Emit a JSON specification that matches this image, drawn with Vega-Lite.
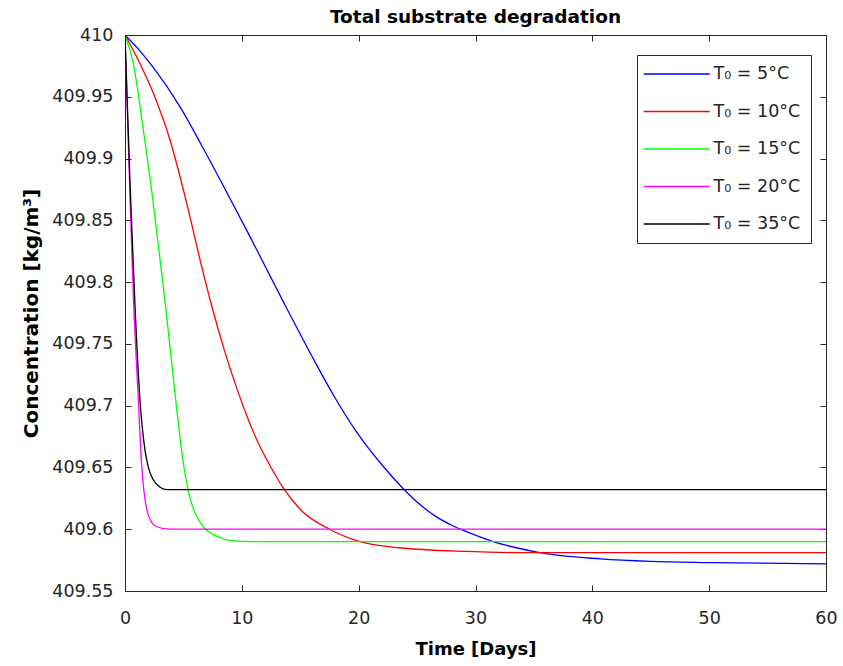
{
  "$schema": "https://vega.github.io/schema/vega-lite/v6.json",
  "width": 701,
  "height": 556,
  "autosize": {"type": "none"},
  "padding": {"left": 125, "top": 35, "right": 17, "bottom": 75},
  "background": "white",
  "title": {"text": "Total substrate degradation", "font": "DejaVu Sans", "fontSize": 18.5, "fontWeight": "bold", "color": "#000000", "offset": 0, "anchor": "middle"},
  "config": {
    "view": {"stroke": "#262626", "strokeWidth": 1},
    "font": "DejaVu Sans",
    "axis": {"grid": false, "domainColor": "#262626", "tickColor": "#262626", "labelColor": "#262626", "labelFont": "DejaVu Sans", "labelFontSize": 17.5, "titleFont": "DejaVu Sans", "titleFontSize": 18, "titleFontWeight": "bold", "titleColor": "#000000", "tickSize": -6, "labelPadding": 18, "labelFlush": false}
  },
  "data": {"values": [
    {"s": "T₀ = 5°C", "t": 0, "v": 410},
    {"s": "T₀ = 5°C", "t": 1.2, "v": 409.988},
    {"s": "T₀ = 5°C", "t": 2.4, "v": 409.974},
    {"s": "T₀ = 5°C", "t": 4.7, "v": 409.942},
    {"s": "T₀ = 5°C", "t": 6.6, "v": 409.910},
    {"s": "T₀ = 5°C", "t": 8.3, "v": 409.880},
    {"s": "T₀ = 5°C", "t": 10.8, "v": 409.835},
    {"s": "T₀ = 5°C", "t": 13.5, "v": 409.785},
    {"s": "T₀ = 5°C", "t": 16.4, "v": 409.733},
    {"s": "T₀ = 5°C", "t": 18.0, "v": 409.706},
    {"s": "T₀ = 5°C", "t": 19.8, "v": 409.679},
    {"s": "T₀ = 5°C", "t": 22.0, "v": 409.652},
    {"s": "T₀ = 5°C", "t": 23.8, "v": 409.633},
    {"s": "T₀ = 5°C", "t": 25.0, "v": 409.622},
    {"s": "T₀ = 5°C", "t": 26.5, "v": 409.611},
    {"s": "T₀ = 5°C", "t": 28.0, "v": 409.603},
    {"s": "T₀ = 5°C", "t": 29.5, "v": 409.597},
    {"s": "T₀ = 5°C", "t": 31.5, "v": 409.590},
    {"s": "T₀ = 5°C", "t": 33.5, "v": 409.585},
    {"s": "T₀ = 5°C", "t": 35.5, "v": 409.581},
    {"s": "T₀ = 5°C", "t": 40.7, "v": 409.576},
    {"s": "T₀ = 5°C", "t": 45.0, "v": 409.574},
    {"s": "T₀ = 5°C", "t": 50.0, "v": 409.573},
    {"s": "T₀ = 5°C", "t": 60.0, "v": 409.572},
    {"s": "T₀ = 10°C", "t": 0, "v": 410},
    {"s": "T₀ = 10°C", "t": 1.28, "v": 409.977},
    {"s": "T₀ = 10°C", "t": 2.42, "v": 409.953},
    {"s": "T₀ = 10°C", "t": 3.85, "v": 409.915},
    {"s": "T₀ = 10°C", "t": 5.28, "v": 409.864},
    {"s": "T₀ = 10°C", "t": 6.5, "v": 409.815},
    {"s": "T₀ = 10°C", "t": 7.5, "v": 409.778},
    {"s": "T₀ = 10°C", "t": 8.5, "v": 409.745},
    {"s": "T₀ = 10°C", "t": 9.5, "v": 409.716},
    {"s": "T₀ = 10°C", "t": 10.5, "v": 409.690},
    {"s": "T₀ = 10°C", "t": 11.5, "v": 409.668},
    {"s": "T₀ = 10°C", "t": 12.5, "v": 409.650},
    {"s": "T₀ = 10°C", "t": 13.5, "v": 409.634},
    {"s": "T₀ = 10°C", "t": 15.0, "v": 409.616},
    {"s": "T₀ = 10°C", "t": 17.5, "v": 409.600},
    {"s": "T₀ = 10°C", "t": 20.1, "v": 409.590},
    {"s": "T₀ = 10°C", "t": 23.5, "v": 409.585},
    {"s": "T₀ = 10°C", "t": 29.3, "v": 409.582},
    {"s": "T₀ = 10°C", "t": 35.0, "v": 409.581},
    {"s": "T₀ = 10°C", "t": 60.0, "v": 409.581},
    {"s": "T₀ = 15°C", "t": 0, "v": 410},
    {"s": "T₀ = 15°C", "t": 0.71, "v": 409.977},
    {"s": "T₀ = 15°C", "t": 1.57, "v": 409.923},
    {"s": "T₀ = 15°C", "t": 2.42, "v": 409.864},
    {"s": "T₀ = 15°C", "t": 3.0, "v": 409.818},
    {"s": "T₀ = 15°C", "t": 3.5, "v": 409.778},
    {"s": "T₀ = 15°C", "t": 4.14, "v": 409.722},
    {"s": "T₀ = 15°C", "t": 5.0, "v": 409.653},
    {"s": "T₀ = 15°C", "t": 5.57, "v": 409.625},
    {"s": "T₀ = 15°C", "t": 6.0, "v": 409.613},
    {"s": "T₀ = 15°C", "t": 6.7, "v": 409.602},
    {"s": "T₀ = 15°C", "t": 7.5, "v": 409.596},
    {"s": "T₀ = 15°C", "t": 8.2, "v": 409.593},
    {"s": "T₀ = 15°C", "t": 9.0, "v": 409.591},
    {"s": "T₀ = 15°C", "t": 11.0, "v": 409.590},
    {"s": "T₀ = 15°C", "t": 60.0, "v": 409.590},
    {"s": "T₀ = 20°C", "t": 0, "v": 410},
    {"s": "T₀ = 20°C", "t": 0.35, "v": 409.893},
    {"s": "T₀ = 20°C", "t": 0.71, "v": 409.790},
    {"s": "T₀ = 20°C", "t": 1.14, "v": 409.705},
    {"s": "T₀ = 20°C", "t": 1.43, "v": 409.651},
    {"s": "T₀ = 20°C", "t": 1.86, "v": 409.616},
    {"s": "T₀ = 20°C", "t": 2.2, "v": 409.607},
    {"s": "T₀ = 20°C", "t": 2.71, "v": 409.602},
    {"s": "T₀ = 20°C", "t": 3.85, "v": 409.600},
    {"s": "T₀ = 20°C", "t": 60.0, "v": 409.600},
    {"s": "T₀ = 35°C", "t": 0, "v": 410},
    {"s": "T₀ = 35°C", "t": 0.43, "v": 409.880},
    {"s": "T₀ = 35°C", "t": 0.86, "v": 409.780},
    {"s": "T₀ = 35°C", "t": 1.28, "v": 409.705},
    {"s": "T₀ = 35°C", "t": 1.71, "v": 409.664},
    {"s": "T₀ = 35°C", "t": 2.0, "v": 409.650},
    {"s": "T₀ = 35°C", "t": 2.42, "v": 409.640},
    {"s": "T₀ = 35°C", "t": 3.0, "v": 409.634},
    {"s": "T₀ = 35°C", "t": 3.6, "v": 409.632},
    {"s": "T₀ = 35°C", "t": 60.0, "v": 409.632}
  ]},
  "layer": [
    {
      "mark": {"type": "line", "strokeWidth": 1.3, "interpolate": "monotone", "clip": true},
      "encoding": {
        "x": {"field": "t", "type": "quantitative", "title": "Time [Days]", "scale": {"domain": [0, 60], "nice": false, "zero": false},
              "axis": {"orient": "bottom", "values": [0, 10, 20, 30, 40, 50, 60], "labelPadding": 24, "titlePadding": 14}},
        "y": {"field": "v", "type": "quantitative", "title": "Concentration [kg/m³]", "scale": {"domain": [409.55, 410], "nice": false, "zero": false},
              "axis": {"orient": "left", "values": [409.55, 409.6, 409.65, 409.7, 409.75, 409.8, 409.85, 409.9, 409.95, 410], "format": "~g", "titlePadding": 10, "titleFontSize": 20}},
        "color": {"field": "s", "type": "nominal", "title": null,
                  "scale": {"domain": ["T₀ = 5°C", "T₀ = 10°C", "T₀ = 15°C", "T₀ = 20°C", "T₀ = 35°C"], "range": ["#0000ff", "#ff0000", "#00ff00", "#ff00ff", "#000000"]},
                  "legend": {"orient": "none", "legendX": 512, "legendY": 20, "strokeColor": "#262626", "fillColor": "white", "padding": 10, "symbolType": "M-1.485,0L6.515,0", "symbolSize": 272, "symbolStrokeWidth": 1.5, "labelFont": "DejaVu Sans", "labelFontSize": 17.5, "labelColor": "#262626", "rowPadding": 19.5, "labelOffset": 48.5}}
      }
    },
    {
      "mark": {"type": "line", "opacity": 0},
      "encoding": {
        "x": {"field": "t", "type": "quantitative", "axis": {"orient": "top", "values": [0, 10, 20, 30, 40, 50, 60], "labels": false, "title": null}},
        "y": {"field": "v", "type": "quantitative", "axis": {"orient": "right", "values": [409.55, 409.6, 409.65, 409.7, 409.75, 409.8, 409.85, 409.9, 409.95, 410], "labels": false, "title": null}},
        "detail": {"field": "s"}
      }
    }
  ],
  "resolve": {"axis": {"x": "independent", "y": "independent"}}
}
